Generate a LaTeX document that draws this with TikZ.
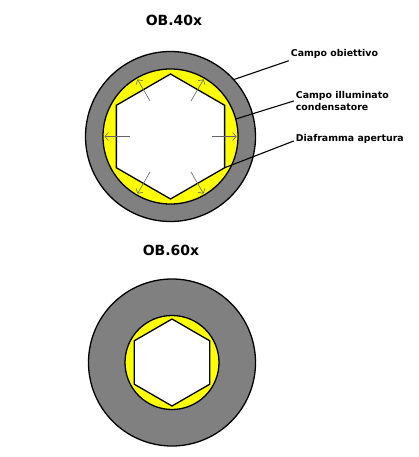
\documentclass[tikz,border=0pt]{standalone}
\usepackage{fontspec}
\setmainfont{DejaVu Sans}
\usepackage{color}
\definecolor{mygray}{RGB}{128,128,128}
\definecolor{myyellow}{RGB}{255,255,0}
\definecolor{myray}{RGB}{100,100,100}
\usepackage{tikz}
\usetikzlibrary{calc,shapes.geometric,arrows,arrows.meta,positioning}
\tikzstyle{field}=[draw,circle,inner sep=0pt,outer sep=0pt,line width=1.3pt]
\tikzstyle{hexa}=[draw,fill=white,regular polygon,regular polygon sides=6,shape border rotate=30,inner sep=0pt,outer sep=0pt,line width=1.3pt]
\tikzstyle{tag}=[anchor=west,align=left,inner sep=2pt,font=\bfseries\fontsize{9.4}{11.7}\selectfont]
\tikzstyle{title}=[font=\bfseries\fontsize{14}{16}\selectfont]
\tikzstyle{leader}=[line width=1.1pt]

\begin{document}
\begin{tikzpicture}[x=1pt,y=1pt,ray/.style={-{Straight Barb[length=3.5pt,width=8pt]},draw=myray,line width=0.6pt}]
\useasboundingbox (0,0) rectangle (419,-457);
% OB.40x
\draw (174,-20) node [title] (t40) {OB.40x};
\draw (170.5,-136.5) node [field, fill=mygray, minimum size=170pt] (obj40) {};
\draw (170.5,-136.5) node [field, fill=myyellow, minimum size=135pt] (ill40) {};
\draw (170.5,-136.5) node [hexa, minimum size=125pt] (hex40) {};
\foreach \a in {0,60,...,300}
  \draw[ray] ($(hex40.center)+(\a:41)$) -- ($(hex40.center)+(\a:66)$);
\draw (288.7,-54) node [tag] (lobj) {Campo obiettivo};
\draw (293.7,-101) node [tag] (lill) {Campo illuminato\\condensatore};
\draw (293.7,-139) node [tag] (ldia) {Diaframma apertura};
\draw[leader] (obj40.42) -- (lobj.south west);
\draw[leader] (ill40.15) -- (lill.west);
\draw[leader] (hex40.330) -- ([yshift=-2pt]ldia.west);
% OB.60x
\draw (171,-250) node [title] (t60) {OB.60x};
\draw (172,-362.5) node [field, fill=mygray, minimum size=167pt] (obj60) {};
\draw (172,-362.5) node [field, fill=myyellow, minimum size=94pt] (ill60) {};
\draw (172,-362.5) node [hexa, minimum size=87pt] (hex60) {};
\end{tikzpicture}
\end{document}
